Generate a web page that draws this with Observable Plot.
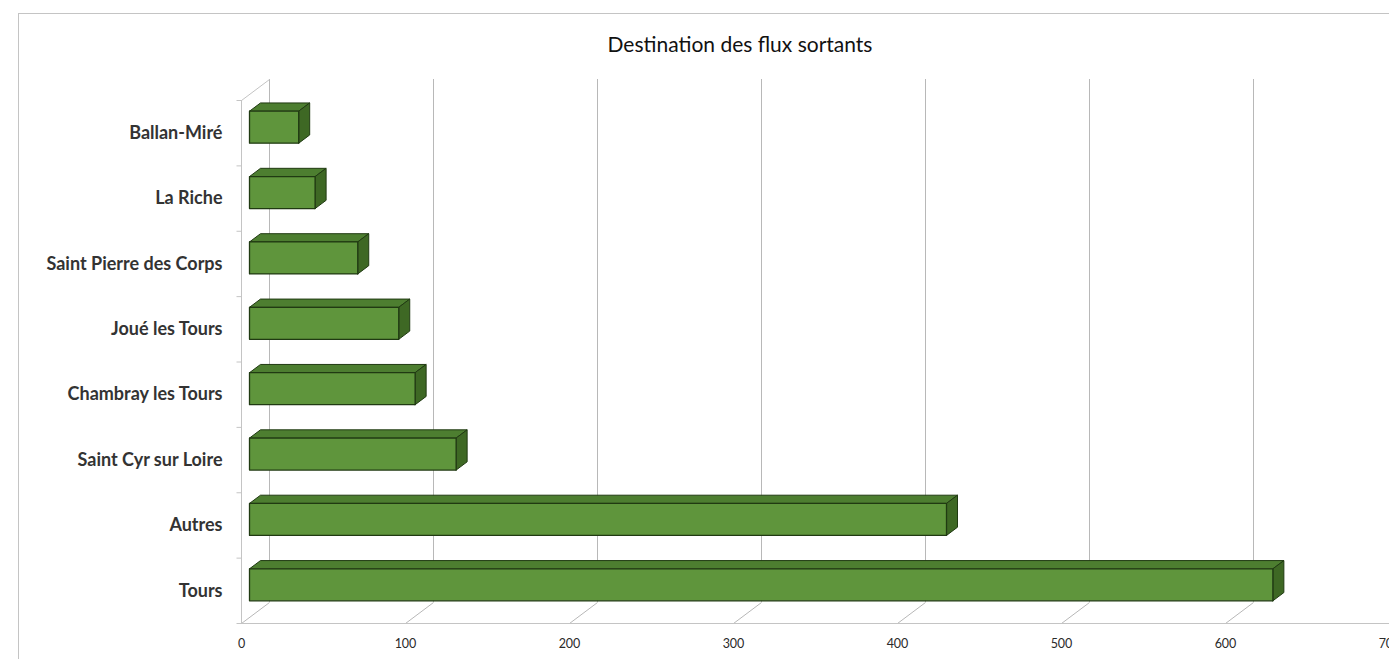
<!DOCTYPE html>
<html><head><meta charset="utf-8">
<script src="https://cdn.jsdelivr.net/npm/d3@7"></script>
<script src="https://cdn.jsdelivr.net/npm/@observablehq/plot@0.6"></script>
<style>
body{margin:0;background:#fff;overflow:hidden}
#wrap{position:relative;width:1389px;height:659px;overflow:hidden;background:#fff}
#border{position:absolute;left:18px;top:13px;width:1500px;height:800px;border:1px solid #c4c4c4;}
#title{position:absolute;left:0;top:31px;width:1480px;text-align:center;font:21px Lato,"Open Sans",sans-serif;color:#111;}
#chart{position:absolute;left:0;top:0}
</style></head>
<body><div id="wrap"><div id="border"></div><div id="chart"></div><div id="title">Destination des flux sortants</div></div>
<script>
const categories = ["Tours","Autres","Saint Cyr sur Loire","Chambray les Tours","Joué les Tours","Saint Pierre des Corps","La Riche","Ballan-Miré"];
const values = [624,425,126,101,91,66,40,30];
const xTicks = [0,100,200,300,400,500,600,700];

const W = 1389, H = 659, mL = 241, mR = 0, mT = 100, mB = 36;
const kx = 700 / (W - mL - mR);      // value units per px
const ky = categories.length / (H - mT - mB); // y units per px
const DX = 28 * kx, DY = 21 * ky;    // full depth offset
const t0 = 8 / 28, t1 = 19 / 28;     // bar front / back depth
const half = 16 * ky;

const pt = (x, y, t) => ({x: x + t * DX, y: y + t * DY});
const frontFace = [], topFace = [], sideFace = [];
categories.forEach((c, k) => {
  const v = values[k], yc = k + 0.5, yb = yc - half, yt = yc + half;
  [pt(0,yb,t0),pt(v,yb,t0),pt(v,yt,t0),pt(0,yt,t0),pt(0,yb,t0)].forEach(p => frontFace.push({id:c,...p}));
  [pt(0,yt,t0),pt(v,yt,t0),pt(v,yt,t1),pt(0,yt,t1),pt(0,yt,t0)].forEach(p => topFace.push({id:c,...p}));
  [pt(v,yb,t0),pt(v,yt,t0),pt(v,yt,t1),pt(v,yb,t1),pt(v,yb,t0)].forEach(p => sideFace.push({id:c,...p}));
});
const n = categories.length;
const bounds = d3.range(n + 1);
const grid = "#b8b8b8", axisC = "#c4c4c4", edge = "#203a12";

const chart = Plot.plot({
  width: W, height: H,
  marginLeft: mL, marginRight: mR, marginTop: mT, marginBottom: mB,
  style: {fontFamily: "Lato, 'Open Sans', sans-serif", color: "#222", background: "transparent", overflow: "visible"},
  x: {domain: [0, 700], label: null},
  y: {domain: [0, n], label: null},
  marks: [
    Plot.ruleX(xTicks, {x: d => d + DX, y1: DY, y2: n + DY, stroke: grid, strokeWidth: 1}),
    Plot.link(xTicks, {x1: d => d, y1: 0, x2: d => d + DX, y2: DY, stroke: grid, strokeWidth: 1}),
    Plot.ruleY([0], {x1: 0, x2: 760, stroke: axisC}),
    Plot.ruleX([0], {y1: 0, y2: n, stroke: axisC}),
    Plot.link([n], {x1: 0, y1: d => d, x2: DX, y2: d => d + DY, stroke: axisC}),
    Plot.link(bounds, {x1: -5 * kx, x2: 0, y1: d => d, y2: d => d, stroke: axisC}),
    Plot.line(topFace, {x: "x", y: "y", z: "id", fill: "#4d7e30", stroke: edge, strokeWidth: 1, curve: "linear"}),
    Plot.line(sideFace, {x: "x", y: "y", z: "id", fill: "#3e6824", stroke: edge, strokeWidth: 1, curve: "linear"}),
    Plot.line(frontFace, {x: "x", y: "y", z: "id", fill: "#5f953c", stroke: edge, strokeWidth: 1.3, curve: "linear"}),
    Plot.axisY(d3.range(n).map(k => k + 0.5), {label: null, tickFormat: d => categories[Math.floor(d)], tickSize: 0, tickPadding: 19, fontSize: 18, fontWeight: "bold", fill: "#333"}),
    Plot.axisX(xTicks, {label: null, tickSize: 0, tickPadding: 16, fontSize: 12.5, fill: "#2a2a2a"})
  ]
});
document.getElementById("chart").appendChild(chart);
</script>
</body></html>
